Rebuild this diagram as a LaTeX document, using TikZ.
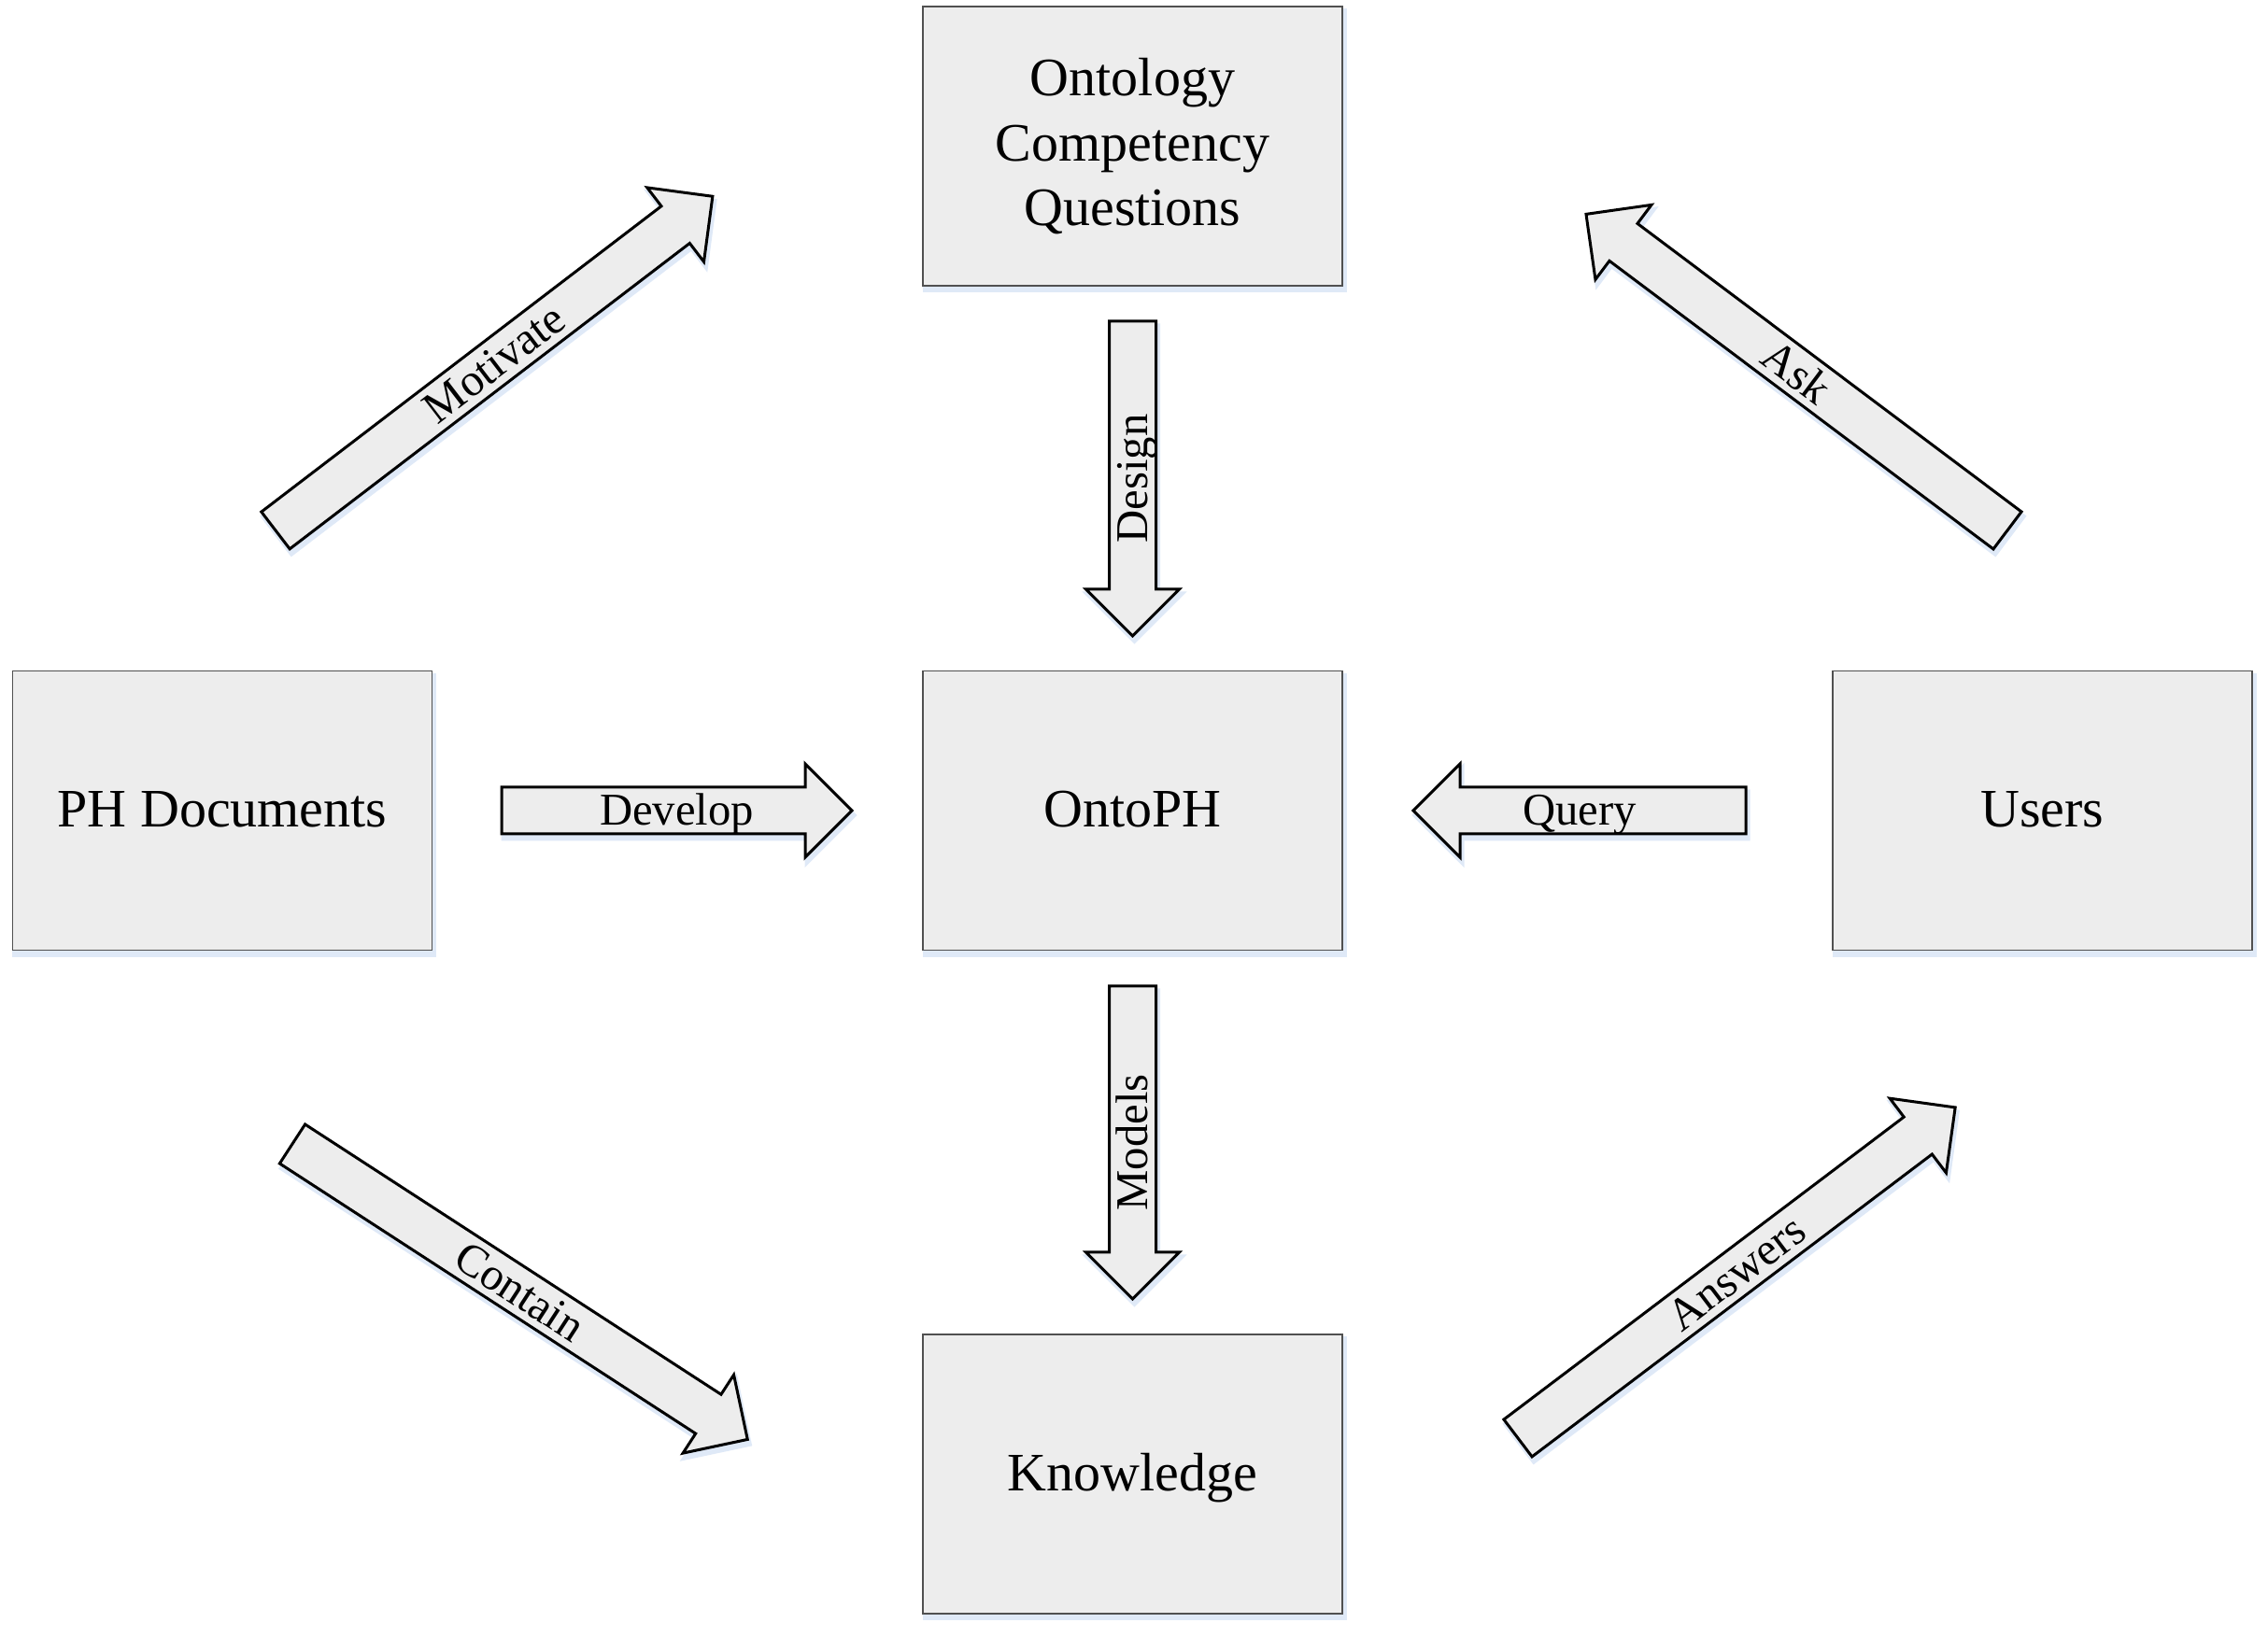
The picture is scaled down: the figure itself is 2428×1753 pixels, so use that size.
\documentclass[tikz,border=0pt]{standalone}
\usepackage{fontspec}
\setmainfont{Liberation Serif}
\definecolor{boxfill}{HTML}{EDEDED}
\definecolor{glowc}{HTML}{DFE9F7}
\definecolor{boxline}{HTML}{505050}
\tikzset{
  box/.style={draw=boxline, line width=0.45pt, fill=boxfill, minimum width=134.7pt, minimum height=89.7pt, inner sep=0pt},
  boxglow/.style={fill=glowc, draw=glowc, line width=1.5pt},
  boxtext/.style={font=\fontsize{17.4}{21}\selectfont, anchor=base, inner sep=0pt},
  arrowshape/.style={draw=black, line width=0.9pt, fill=boxfill, line join=miter},
  lbl/.style={font=\fontsize{14.6}{17}\selectfont, anchor=base, inner sep=0pt, transform shape},
}
% #1 x, #2 y (tail centre), #3 angle, #4 length, #5 name, #6 label, #7 extra text rotation, #8 baseline offset
\newcommand{\blockarrow}[8]{%
  \begin{scope}[shift={(#1+2,#2-5)},rotate=#3]
    \path[boxglow] (0,-25) -- ({#4-50},-25) -- ({#4-50},-50) -- (#4,0) -- ({#4-50},50) -- ({#4-50},25) -- (0,25) -- cycle;
  \end{scope}
  \begin{scope}[shift={(#1,#2)},rotate=#3]
    \draw[arrowshape] (0,-25) -- ({#4-50},-25) -- ({#4-50},-50) -- (#4,0) -- ({#4-50},50) -- ({#4-50},25) -- (0,25) -- cycle;
    \coordinate (#5-tail) at (0,0);
    \coordinate (#5-tip) at (#4,0);
    \node[lbl, rotate=#7] (#5) at ({#4/2},#8) {#6};
  \end{scope}
}
\newcommand{\boxglowat}[2]{%
  \path[boxglow] (#1-224.5+2,#2-149.5-5) rectangle (#1+224.5+2,#2+149.5-5);
}
\begin{document}
\begin{tikzpicture}[x=0.3pt,y=0.3pt]
  \useasboundingbox (0,0) rectangle (2428,1753);

  % boxes
  \boxglowat{1212.5}{1596.5}
  \boxglowat{238}{885}
  \boxglowat{1212.5}{885}
  \boxglowat{2186.5}{885}
  \boxglowat{1212.5}{174.5}
  \node[box] (oq) at (1212.5,1596.5) {};
  \node[box] (ph) at (238,885) {};
  \node[box] (onto) at (1212.5,885) {};
  \node[box] (users) at (2186.5,885) {};
  \node[box] (know) at (1212.5,174.5) {};

  \node[boxtext] (oq1) at (1212.5,1650) {Ontology};
  \node[boxtext] (oq2) at (1212.5,1580) {Competency};
  \node[boxtext] (oq3) at (1212.5,1511) {Questions};
  \node[boxtext] (pht) at (238,867) {PH Documents};
  \node[boxtext] (ontot) at (1212.5,867) {OntoPH};
  \node[boxtext] (userst) at (2186.5,867) {Users};
  \node[boxtext] (knowt) at (1212.5,156.5) {Knowledge};

  % block arrows
  \blockarrow{295}{1185}{37.4}{589}{motivate}{Motivate}{0}{-16}
  \blockarrow{2149}{1185}{143.1}{564}{ask}{Ask}{180}{16}
  \blockarrow{313}{528}{-33}{581}{contain}{Contain}{0}{-16}
  \blockarrow{1625}{213}{37.1}{587}{answers}{Answers}{0}{-16}
  \blockarrow{1212.5}{1409}{-90}{337}{design}{Design}{180}{16}
  \blockarrow{1212.5}{697}{-90}{335}{models}{Models}{180}{16}
  \blockarrow{537}{885}{0}{375}{develop}{Develop}{0}{-16}
  \blockarrow{1869}{885}{180}{356}{query}{Query}{180}{16}
\end{tikzpicture}
\end{document}
